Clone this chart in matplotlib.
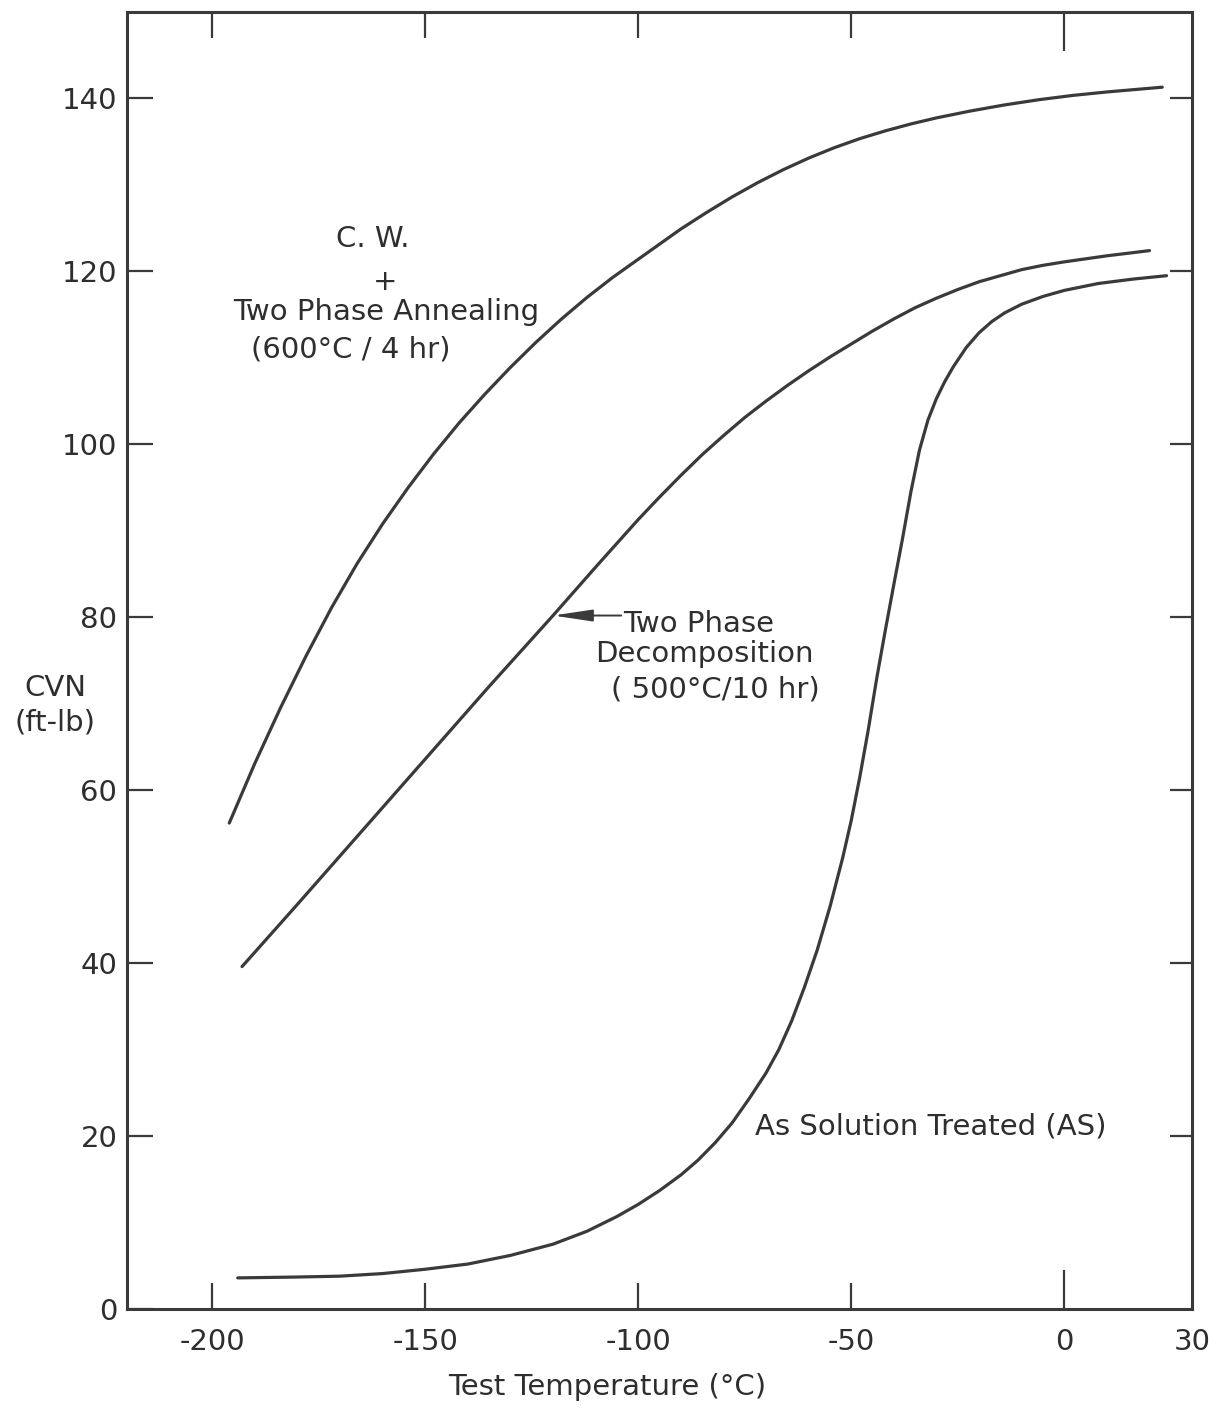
import matplotlib
matplotlib.use("Agg")
import matplotlib.pyplot as plt

# C.W. + two phase annealing (600C / 4 hr)
t_cw = [-196, -190, -184, -178, -172, -166, -160, -154, -148, -142, -136, -130,
        -124, -118, -112, -106, -100, -96, -90, -84, -78, -72, -66, -60, -54,
        -48, -42, -36, -30, -22, -14, -6, 2, 10, 23]
cvn_cw = [56.2, 63.1, 69.5, 75.5, 81.1, 86.2, 90.8, 95.0, 98.9, 102.5, 105.8,
          108.9, 111.8, 114.5, 117.0, 119.3, 121.4, 122.8, 124.9, 126.8, 128.6,
          130.25, 131.75, 133.1, 134.3, 135.35, 136.25, 137.05, 137.75, 138.55,
          139.25, 139.85, 140.35, 140.75, 141.3]

# two phase decomposition (500C / 10 hr)
t_dec = [-193, -180, -165, -150, -135, -120, -110, -100, -95, -90, -85, -80,
         -75, -70, -65, -60, -55, -50, -45, -40, -35, -30, -25, -20, -15, -10,
         -5, 0, 10, 20]
cvn_dec = [39.6, 46.8, 55.2, 63.6, 72, 80.2, 85.8, 91.3, 93.9, 96.4, 98.8, 101,
           103.1, 105, 106.8, 108.5, 110.1, 111.6, 113.1, 114.5, 115.8, 116.9,
           117.9, 118.8, 119.5, 120.2, 120.7, 121.1, 121.8, 122.4]

# as solution treated (AS)
t_as = [-194, -180, -170, -160, -150, -140, -130, -120, -112, -105, -100, -95,
        -90, -86, -82, -78, -74, -70, -67, -64, -61, -58, -55, -52, -50, -48,
        -46, -44, -42, -40, -38, -36, -34, -32, -30, -28, -26, -23, -20, -17,
        -14, -10, -5, 0, 8, 16, 24]
cvn_as = [3.6, 3.7, 3.8, 4.1, 4.6, 5.2, 6.2, 7.5, 9.0, 10.7, 12.1, 13.7,
          15.5, 17.2, 19.2, 21.5, 24.3, 27.3, 30.0, 33.3, 37.2, 41.5, 46.5,
          52.2, 56.5, 61.5, 67, 73, 78.5, 83.8, 89, 94.5, 99.3, 102.8, 105.3,
          107.3, 109.0, 111.2, 112.9, 114.2, 115.2, 116.2, 117.1, 117.8, 118.6,
          119.1, 119.5]

xticks = [-200, -150, -100, -50, 0, 30]
yticks = [0, 20, 40, 60, 80, 100, 120, 140]

ink = "#3a3a3a"
tc = "#2e2e2e"
plt.rcParams['font.family'] = ['DejaVu Sans']

fig = plt.figure(figsize=(12.19, 14.08), dpi=100)
ax = fig.add_axes([0.1042, 0.0703, 0.8737, 0.9212])

for t, c in [(t_cw, cvn_cw), (t_dec, cvn_dec), (t_as, cvn_as)]:
  ax.plot(t, c, color=ink, lw=2.3, solid_capstyle='round', solid_joinstyle='round')

ax.set_xlim(-220, 30)
ax.set_ylim(0, 150)
ax.set_xticks(xticks)
ax.set_xticklabels([str(v) for v in xticks])
ax.set_yticks(yticks)
ax.tick_params(direction='in', top=True, right=True, length=19, width=1.6,
               color=ink, labelsize=21, labelcolor=tc)
ax.tick_params(axis='x', pad=14)
ax.tick_params(axis='y', pad=7)
for s in ax.spines.values():
  s.set_linewidth(2.2)
  s.set_color(ink)

# longer tick at 0 C
tk = ax.xaxis.get_major_ticks()[4]
tk.tick1line.set_markersize(28)
tk.tick2line.set_markersize(28)
# no tick marks drawn in the corners
ax.xaxis.get_major_ticks()[5].tick1line.set_visible(False)
ax.xaxis.get_major_ticks()[5].tick2line.set_visible(False)
ax.yaxis.get_major_ticks()[0].tick2line.set_visible(False)
for i in range(1, 8):
  ax.yaxis.get_major_ticks()[i].tick2line.set_markersize(16)

fs = 21
ax.text(-162.3, 123.8, "C. W.", ha='center', va='center', fontsize=fs, color=tc)
ax.text(-159.4, 118.8, "+", ha='center', va='center', fontsize=fs, color=tc)
ax.text(-159.2, 115.3, "Two Phase Annealing", ha='center', va='center', fontsize=fs, color=tc)
ax.text(-167.6, 111.0, "(600°C / 4 hr)", ha='center', va='center', fontsize=fs, color=tc)

ax.annotate("", xy=(-120.0, 80.2), xytext=(-104.0, 80.2),
            arrowprops=dict(arrowstyle='-|>,head_length=1.2,head_width=0.18',
                            color=ink, lw=1.4, mutation_scale=20, shrinkA=0, shrinkB=0))
ax.text(-103.5, 79.2, "Two Phase", ha='left', va='center', fontsize=fs, color=tc)
ax.text(-84.4, 75.7, "Decomposition", ha='center', va='center', fontsize=fs, color=tc)
ax.text(-81.8, 71.7, "( 500°C/10 hr)", ha='center', va='center', fontsize=fs, color=tc)

ax.text(-72.7, 21.1, "As Solution Treated (AS)", ha='left', va='center', fontsize=fs, color=tc)

fig.text(55/1219, 1 - 688/1408, "CVN", ha='center', va='center', fontsize=fs, color=tc)
fig.text(55/1219, 1 - 722/1408, "(ft-lb)", ha='center', va='center', fontsize=fs, color=tc)
fig.text(607/1219, 1 - 1387/1408, "Test Temperature (°C)", ha='center', va='center',
         fontsize=fs, color=tc)

fig.savefig("out.png", dpi=100)
plt.close()
